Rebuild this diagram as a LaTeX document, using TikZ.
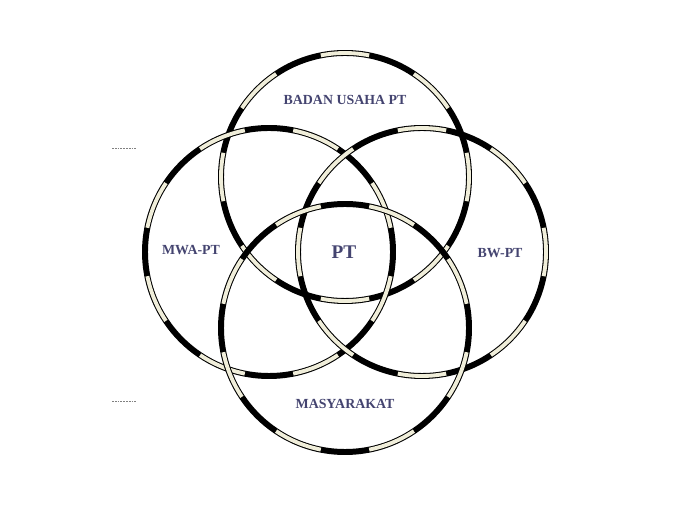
\documentclass[tikz,border=0pt]{standalone}
\usepackage{fontspec}
\setmainfont{Liberation Serif}
\definecolor{hoopcream}{RGB}{240,238,218}
\definecolor{labelink}{RGB}{68,68,112}
\tikzset{
	label text/.style={text=labelink, font=\bfseries\fontsize{7.9}{9}\selectfont},
	hoop black/.style={line width=3.4pt, black},
	hoop cream/.style={line width=2.2pt, hoopcream},
	guide/.style={gray, line width=0.3pt, dash pattern=on 1pt off 0.6pt}
}
\newcommand{\hoop}[3]{
	\draw[hoop black] (#1) circle (#2);
	\foreach \a in {0,45,...,315}
		\draw[hoop cream] (#1) ++(\a+#3-11.25:#2) arc[start angle=\a+#3-11.25, delta angle=22.5, radius=#2];
}
\begin{document}
\begin{tikzpicture}[x=0.02cm, y=0.02cm]
	\useasboundingbox (0,0) rectangle (689,510);
	
	\coordinate (top) at (345,333);
	\coordinate (left) at (269,258);
	\coordinate (right) at (422,258);
	\coordinate (bottom) at (345,182);
	
	\hoop{top}{124}{0}
	\hoop{left}{124}{22.5}
	\hoop{right}{124}{0}
	\hoop{bottom}{124}{22.5}
	
	\node[label text] (badan) at (345,410) {BADAN USAHA PT};
	\node[label text] (mwa) at (191,260) {MWA-PT};
	\node[label text, font=\bfseries\fontsize{11}{13}\selectfont] (pt) at (344,258) {PT};
	\node[label text] (bw) at (500,257) {BW-PT};
	\node[label text] (masyarakat) at (345,106) {MASYARAKAT};
	
	\coordinate (g1) at (112,362);
	\coordinate (g2) at (137,362);
	\coordinate (g3) at (112,109);
	\coordinate (g4) at (136,109);
	\draw[guide] (g1) -- (g2);
	\draw[guide] (g3) -- (g4);
\end{tikzpicture}
\end{document}
